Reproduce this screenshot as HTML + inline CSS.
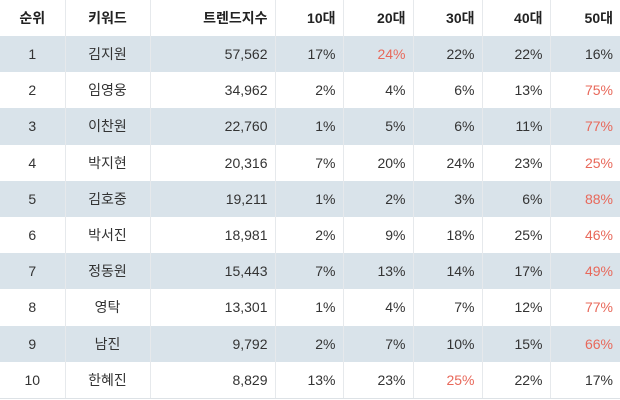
<!DOCTYPE html>
<html><head><meta charset="utf-8"><style>
body{margin:0;background:#fff;width:620px;height:400px;overflow:hidden;font-family:"Liberation Sans","Noto Sans CJK KR",sans-serif;}
table{border-collapse:collapse;width:620px;table-layout:fixed;font-size:14px;color:#333;}
td,th{padding:0 7px;border-left:1px solid #e6e9ec;white-space:nowrap}
td:first-child,th:first-child{border-left:none}
th{height:36px;font-weight:bold;font-size:14px;color:#222;text-align:right}
td{height:36.2px;text-align:right}
.c{text-align:center}
tr.s td{background:#d9e3ea}
tr:last-child td{border-bottom:1px solid #dde2e6}
.r{color:#e8685a}
</style></head><body>
<table>
<colgroup><col style="width:65px"><col style="width:85px"><col style="width:125px"><col style="width:68px"><col style="width:70px"><col style="width:69px"><col style="width:68px"><col style="width:70px"></colgroup>
<thead><tr>
<th class="c">순위</th>
<th class="c">키워드</th>
<th>트렌드지수</th>
<th>10대</th>
<th>20대</th>
<th>30대</th>
<th>40대</th>
<th>50대</th>
</tr></thead>
<tbody id="tb"></tbody></table>
<script>
const names=["김지원","임영웅","이찬원","박지현","김호중","박서진","정동원","영탁","남진","한혜진"];
const idx=["57,562","34,962","22,760","20,316","19,211","18,981","15,443","13,301","9,792","8,829"];
const a10=[17,2,1,7,1,2,7,1,2,13];
const a20=[24,4,5,20,2,9,13,4,7,23];
const a30=[22,6,6,24,3,18,14,7,10,25];
const a40=[22,13,11,23,6,25,17,12,15,22];
const a50=[16,75,77,25,88,46,49,77,66,17];
const tb=document.getElementById('tb');
names.forEach((n,i)=>{
  const vals=[a10[i],a20[i],a30[i],a40[i],a50[i]];
  const mx=Math.max(...vals);
  const tr=document.createElement('tr');
  
  
  if(i%2===0)tr.className='s';
  let h='<td class="c">'+(i+1)+'</td><td class="c">'+n+'</td><td>'+idx[i]+'</td>';
  vals.forEach((v,j)=>{h+='<td'+(v===mx?' class="r"':'')+'>'+v+'%</td>';});
  tr.innerHTML=h;
  tb.appendChild(tr);
});
</script>
</body></html>
